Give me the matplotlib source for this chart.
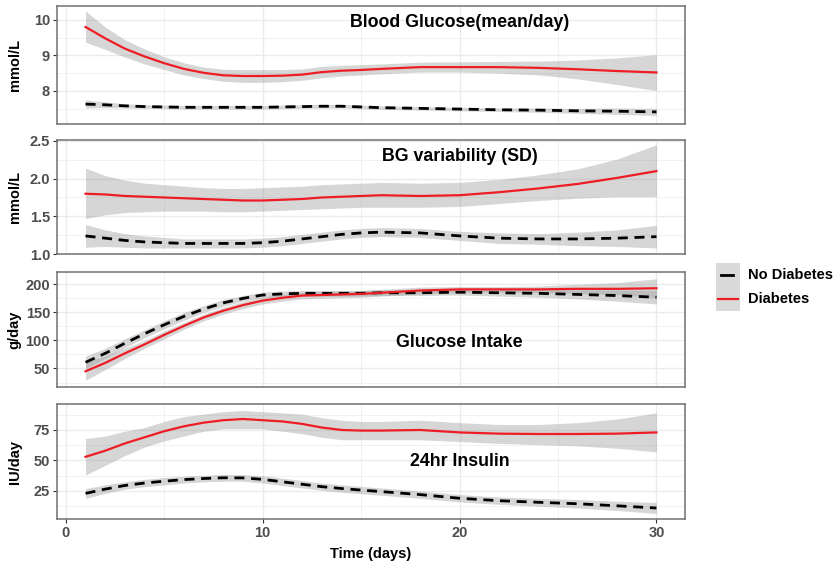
import matplotlib
matplotlib.use("Agg")
import matplotlib.pyplot as plt
from matplotlib.lines import Line2D
from matplotlib.patches import Rectangle

plt.rcParams['font.family'] = ['Liberation Sans', 'DejaVu Sans']

days = [1, 2, 3, 4, 5, 6, 7, 8, 9, 10, 11, 12, 13, 14, 15, 16, 18, 20, 22, 24, 26, 28, 30]

# Panel 1: Blood Glucose (mean/day)
bg_dm = [9.80, 9.48, 9.19, 8.97, 8.78, 8.62, 8.51, 8.44, 8.42, 8.42, 8.43, 8.46, 8.53, 8.57, 8.59, 8.62, 8.67, 8.67, 8.67, 8.65, 8.61, 8.56, 8.52]
bg_dm_lo = [9.37, 9.17, 8.95, 8.76, 8.60, 8.45, 8.35, 8.27, 8.24, 8.24, 8.26, 8.30, 8.37, 8.42, 8.45, 8.48, 8.53, 8.53, 8.50, 8.45, 8.34, 8.18, 8.01]
bg_dm_hi = [10.25, 9.80, 9.44, 9.18, 8.96, 8.79, 8.67, 8.61, 8.60, 8.60, 8.60, 8.62, 8.69, 8.72, 8.74, 8.76, 8.81, 8.82, 8.83, 8.84, 8.87, 8.93, 9.02]
bg_nd = [7.63, 7.61, 7.58, 7.56, 7.55, 7.54, 7.54, 7.54, 7.54, 7.54, 7.55, 7.56, 7.57, 7.57, 7.55, 7.53, 7.51, 7.49, 7.47, 7.46, 7.44, 7.43, 7.41]
bg_nd_lo = [7.52, 7.53, 7.52, 7.51, 7.50, 7.49, 7.49, 7.49, 7.49, 7.49, 7.50, 7.51, 7.52, 7.52, 7.50, 7.48, 7.46, 7.44, 7.42, 7.40, 7.37, 7.34, 7.31]
bg_nd_hi = [7.75, 7.69, 7.64, 7.61, 7.60, 7.59, 7.59, 7.59, 7.59, 7.59, 7.60, 7.61, 7.62, 7.62, 7.60, 7.58, 7.56, 7.54, 7.52, 7.52, 7.51, 7.52, 7.51]

# Panel 2: BG variability (SD)
sd_dm = [1.80, 1.79, 1.77, 1.76, 1.75, 1.74, 1.73, 1.72, 1.71, 1.71, 1.72, 1.73, 1.75, 1.76, 1.77, 1.78, 1.77, 1.78, 1.82, 1.87, 1.93, 2.01, 2.10]
sd_dm_lo = [1.47, 1.52, 1.55, 1.56, 1.57, 1.57, 1.57, 1.56, 1.56, 1.57, 1.58, 1.59, 1.60, 1.61, 1.62, 1.62, 1.62, 1.63, 1.67, 1.71, 1.74, 1.76, 1.76]
sd_dm_hi = [2.14, 2.04, 1.98, 1.94, 1.92, 1.90, 1.88, 1.87, 1.87, 1.88, 1.89, 1.90, 1.92, 1.93, 1.94, 1.95, 1.94, 1.95, 1.99, 2.05, 2.13, 2.26, 2.45]
sd_nd = [1.24, 1.21, 1.18, 1.16, 1.15, 1.14, 1.14, 1.14, 1.14, 1.15, 1.17, 1.20, 1.23, 1.26, 1.28, 1.29, 1.28, 1.24, 1.21, 1.20, 1.20, 1.21, 1.23]
sd_nd_lo = [1.09, 1.10, 1.09, 1.08, 1.08, 1.08, 1.08, 1.08, 1.08, 1.09, 1.11, 1.14, 1.17, 1.20, 1.22, 1.23, 1.22, 1.18, 1.14, 1.13, 1.11, 1.10, 1.08]
sd_nd_hi = [1.39, 1.32, 1.27, 1.24, 1.22, 1.20, 1.20, 1.20, 1.20, 1.21, 1.23, 1.26, 1.29, 1.32, 1.34, 1.35, 1.34, 1.30, 1.28, 1.27, 1.29, 1.32, 1.38]

# Panel 3: Glucose Intake
gi_dm = [45, 60, 77, 93, 110, 126, 141, 153, 163, 171, 176, 180, 181, 182, 183, 185, 189, 191, 191, 191, 192, 192, 193]
gi_dm_lo = [29, 48, 68, 86, 103, 120, 135, 147, 157, 165, 170, 174, 175, 176, 177, 179, 183, 186, 186, 185, 184, 182, 176]
gi_dm_hi = [61, 72, 86, 100, 117, 132, 147, 159, 169, 177, 182, 186, 187, 188, 189, 191, 195, 196, 196, 197, 200, 203, 210]
gi_nd = [61, 77, 95, 112, 128, 143, 156, 167, 175, 181, 183, 184, 184, 184, 184, 185, 185, 186, 185, 184, 182, 180, 177]
gi_nd_lo = [50, 68, 87, 105, 121, 136, 150, 161, 170, 176, 178, 179, 179, 179, 179, 180, 180, 181, 179, 177, 174, 170, 165]
gi_nd_hi = [72, 86, 103, 119, 135, 150, 162, 173, 180, 186, 188, 189, 189, 189, 189, 190, 190, 191, 191, 191, 190, 190, 189]

# Panel 4: 24hr Insulin
ins_dm = [53, 58, 64, 69, 74, 78, 81, 83, 84, 83, 82, 80, 77, 75, 74.5, 74.5, 75, 73, 72, 71.7, 71.7, 72, 73]
ins_dm_lo = [38, 46, 54, 61, 66, 70, 74, 76, 76, 76, 74, 72, 69, 67, 67, 67, 67, 65.5, 64, 63, 62, 60, 57]
ins_dm_hi = [68, 70, 74, 77, 82, 86, 88, 90, 91, 90, 89, 88, 85, 83, 82, 82, 83, 81, 79.5, 79.5, 81, 84, 89]
ins_nd = [23, 26.5, 29.5, 31.5, 33, 34.3, 35.2, 35.8, 35.7, 34.5, 32.5, 30.5, 28.5, 27, 25.7, 24.5, 22, 19, 17, 15.7, 14.5, 12.8, 11]
ins_nd_lo = [19, 23, 26.5, 28.5, 30, 31.5, 32.5, 33, 33, 31.5, 29.5, 27.5, 25.5, 24, 22.7, 21.5, 19, 16, 14, 12.5, 11, 9, 6.5]
ins_nd_hi = [27, 30, 32.5, 34.5, 36, 37.1, 37.9, 38.6, 38.4, 37.5, 35.5, 33.5, 31.5, 30, 28.7, 27.5, 25, 22, 20, 18.9, 18, 16.6, 15.5]

panels = [
    dict(title="Blood Glucose(mean/day)", ylabel="mmol/L", ylim=(7.07, 10.39),
         yticks=[8, 9, 10], yticklabels=["8", "9", "10"], yminor=[7.5, 8.5, 9.5],
         dm=(bg_dm, bg_dm_lo, bg_dm_hi), nd=(bg_nd, bg_nd_lo, bg_nd_hi), ty=0.864,
         rect=(6, 124)),
    dict(title="BG variability (SD)", ylabel="mmol/L", ylim=(1.0, 2.513),
         yticks=[1.0, 1.5, 2.0, 2.5], yticklabels=["1.0", "1.5", "2.0", "2.5"], yminor=[1.25, 1.75, 2.25],
         dm=(sd_dm, sd_dm_lo, sd_dm_hi), nd=(sd_nd, sd_nd_lo, sd_nd_hi), ty=0.853,
         rect=(140, 254)),
    dict(title="Glucose Intake", ylabel="g/day", ylim=(17, 222),
         yticks=[50, 100, 150, 200], yticklabels=["50", "100", "150", "200"], yminor=[25, 75, 125, 175],
         dm=(gi_dm, gi_dm_lo, gi_dm_hi), nd=(gi_nd, gi_nd_lo, gi_nd_hi), ty=0.391,
         rect=(272, 387)),
    dict(title="24hr Insulin", ylabel="IU/day", ylim=(2.0, 96.3),
         yticks=[25, 50, 75], yticklabels=["25", "50", "75"], yminor=[12.5, 37.5, 62.5, 87.5],
         dm=(ins_dm, ins_dm_lo, ins_dm_hi), nd=(ins_nd, ins_nd_lo, ins_nd_hi), ty=0.498,
         rect=(404, 519)),
]

xticks = [0, 10, 20, 30]
xminor = [5, 15, 25]

W, H = 837, 563
fig = plt.figure(figsize=(W / 100, H / 100), dpi=100)

L, R = 57, 685
red = '#EE1C25'
band = '#999999'
grid_c = '#EBEBEB'
tick_c = '#4D4D4D'

for i, p in enumerate(panels):
    top, bot = p['rect']
    ax = fig.add_axes([L / W, 1 - bot / H, (R - L) / W, (bot - top) / H])
    ax.set_xlim(-0.45, 31.45)
    ax.set_ylim(*p['ylim'])
    for s in ax.spines.values():
        s.set_color('#707070')
        s.set_linewidth(1.1)
    ax.set_xticks(xticks)
    ax.set_xticks(xminor, minor=True)
    ax.set_yticks(p['yticks'])
    ax.set_yticklabels(p['yticklabels'])
    ax.set_yticks(p['yminor'], minor=True)
    ax.grid(True, which='major', color=grid_c, lw=1.0, zorder=0)
    ax.grid(True, which='minor', color=grid_c, lw=0.5, zorder=0)
    ax.set_axisbelow(True)
    ax.tick_params(axis='y', which='major', length=3, width=0.8, color='#333333',
                   labelsize=10.5, labelcolor=tick_c, pad=2)
    ax.tick_params(which='minor', length=0)
    for lab in ax.get_yticklabels():
        lab.set_fontweight('bold')
    if i < 3:
        ax.tick_params(axis='x', which='major', length=0, labelbottom=False)
    else:
        ax.tick_params(axis='x', which='major', length=3, width=0.8, color='#333333',
                       labelsize=10.5, labelcolor=tick_c, pad=2)
        ax.set_xticklabels([str(t) for t in xticks], fontweight='bold')
        ax.set_xlabel("Time (days)", fontsize=10.5, fontweight='bold', color='black', labelpad=5)

    m, lo, hi = p['nd']
    ax.fill_between(days, lo, hi, color=band, alpha=0.4, lw=0, zorder=2)
    m2, lo2, hi2 = p['dm']
    ax.fill_between(days, lo2, hi2, color=band, alpha=0.4, lw=0, zorder=2)
    ax.plot(days, m, color='black', lw=2.0, dashes=(3.6, 2.4), zorder=3)
    ax.plot(days, m2, color=red, lw=1.6, zorder=3)

    ax.set_ylabel(p['ylabel'], fontsize=10.5, fontweight='bold', color='black')
    ax.yaxis.set_label_coords(-0.056, 0.5)
    ax.text(0.641, p['ty'], p['title'], transform=ax.transAxes, ha='center', va='center',
            fontsize=12.8, fontweight='bold', color='black')

# legend
kx0, kx1 = 716, 740
ky0, ky1 = 263, 311
fig.patches.append(Rectangle((kx0 / W, 1 - ky1 / H), (kx1 - kx0) / W, (ky1 - ky0) / H,
                             transform=fig.transFigure, facecolor='#D9D9D9', edgecolor='none'))
fig.lines.append(Line2D([721 / W, 733 / W], [1 - 275 / H] * 2, transform=fig.transFigure,
                        color='black', lw=2.0))
fig.lines.append(Line2D([718 / W, 738 / W], [1 - 299 / H] * 2, transform=fig.transFigure,
                        color=red, lw=1.6))
fig.text(748 / W, 1 - 275 / H, "No Diabetes", ha='left', va='center', fontsize=10.5,
         fontweight='bold', color='black')
fig.text(748 / W, 1 - 299 / H, "Diabetes", ha='left', va='center', fontsize=10.5,
         fontweight='bold', color='black')

fig.savefig("out.png", dpi=100)
